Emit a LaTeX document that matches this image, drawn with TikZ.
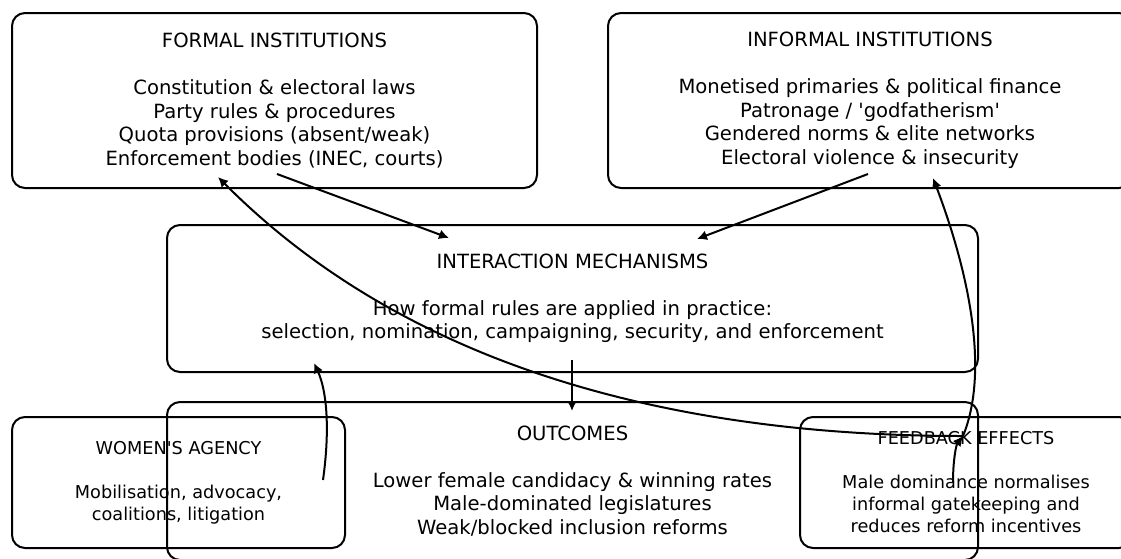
\documentclass[tikz,border=0pt]{standalone}
\usepackage{fontspec}
\setmainfont{DejaVu Sans}[Ligatures=TeXOff]
\usetikzlibrary{arrows.meta}

\begin{document}
\begin{tikzpicture}[x=1pt, y=-1pt, >={Latex[length=10pt,width=10pt]},
    box/.style={draw, line width=2pt, rounded corners=13pt, align=center, inner sep=0pt,
        font=\fontsize{19.6}{23.5}\selectfont},
    smallbox/.style={box, font=\fontsize{17.7}{22}\selectfont},
    link/.style={->, line width=2pt}]

    % 1. Khung hình: 1121 x 558 (đơn vị pt, trục y hướng xuống)
    \useasboundingbox (0,0) rectangle (1121,558);

    % 2. Các khung chữ
    \node[box, minimum width=525, minimum height=175] (formal) at (274.5,100.5)
        {FORMAL INSTITUTIONS\\[23.5pt]
         Constitution \& electoral laws\\
         Party rules \& procedures\\
         Quota provisions (absent/weak)\\
         Enforcement bodies (INEC, courts)};
    \node[box, minimum width=524, minimum height=175] (informal) at (870,100.5)
        {INFORMAL INSTITUTIONS\\[23.5pt]
         Monetised primaries \& political finance\\
         Patronage / 'godfatherism'\\
         Gendered norms \& elite networks\\
         Electoral violence \& insecurity};
    \node[box, minimum width=811, minimum height=147] (mech) at (572.5,298.5)
        {INTERACTION MECHANISMS\\[23.5pt]
         How formal rules are applied in practice:\\
         selection, nomination, campaigning, security, and enforcement};
    \node[box, minimum width=811, minimum height=158] (outcomes) at (572.5,481)
        {OUTCOMES\\[23.5pt]
         Lower female candidacy \& winning rates\\
         Male-dominated legislatures\\
         Weak/blocked inclusion reforms};
    \node[smallbox, minimum width=333, minimum height=131] (agency) at (178.5,482.5)
        {WOMEN'S AGENCY\\[22pt]
         Mobilisation, advocacy,\\
         coalitions, litigation};
    \node[smallbox, minimum width=332, minimum height=131] (feedback) at (966,482.5)
        {FEEDBACK EFFECTS\\[22pt]
         Male dominance normalises\\
         informal gatekeeping and\\
         reduces reform incentives};

    % 3. Điểm đầu, điểm cuối của các mũi tên
    \coordinate (f1) at (277,174);
    \coordinate (f2) at (218,177);
    \coordinate (i1) at (868,174);
    \coordinate (i2) at (933,178);
    \coordinate (m1) at (449,238);
    \coordinate (m2) at (697,239);
    \coordinate (m3) at (572,360);
    \coordinate (m4) at (314,363);
    \coordinate (o1) at (572,411);
    \coordinate (a1) at (323,480);
    \coordinate (b1) at (953,482);
    \coordinate (fb) at (963,436);

    % 4. Các mũi tên
    \draw[link] (f1) -- (m1);
    \draw[link] (i1) -- (m2);
    \draw[link] (m3) -- (o1);
    \draw[link] (a1) .. controls (330,430) and (327,391) .. (m4);
    \draw[link] (b1) .. controls (953,461) and (956,445) .. (fb);
    \draw[link] (fb) .. controls (990,370) and (968,270) .. (i2);
    \draw[link] (fb) .. controls (638,436) and (390,350) .. (f2);

\end{tikzpicture}
\end{document}
